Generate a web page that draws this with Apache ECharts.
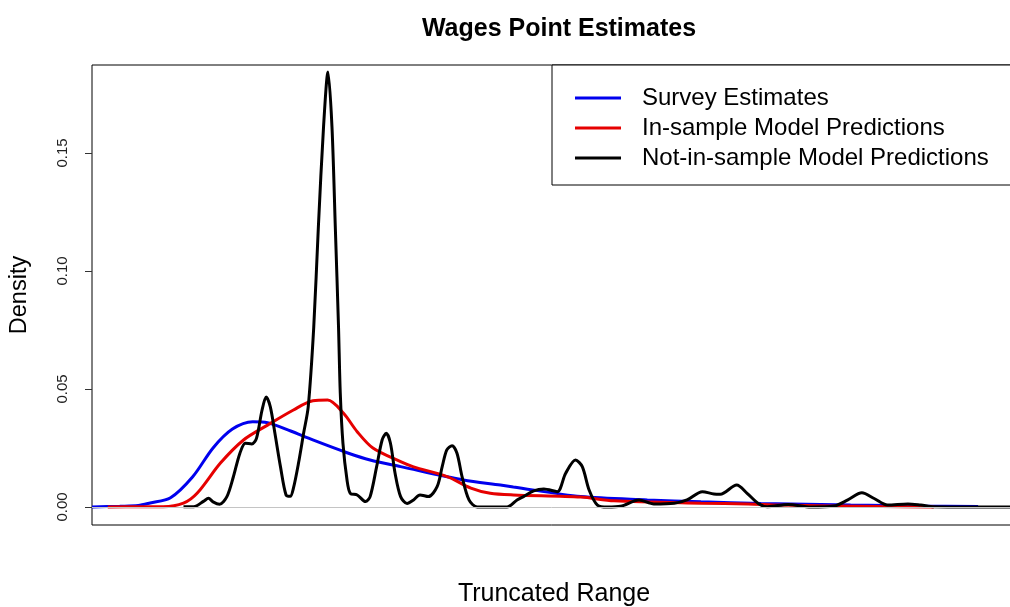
<!DOCTYPE html>
<html>
<head>
<meta charset="utf-8">
<title>Wages Point Estimates</title>
<script src="https://cdn.jsdelivr.net/npm/echarts@6/dist/echarts.min.js"></script>
<style>
  html, body { margin: 0; padding: 0; background: #fff; }
  #chart { width: 1010px; height: 607px; }
</style>
</head>
<body>
<div id="chart"></div>
<script>
// Density curves over the truncated wage range, as [x, density] pairs.
const surveyEstimates = [
  [0, 0], [3.0, 0.0003], [5.0, 0.0006], [6.3, 0.0017], [8.5, 0.0039], [10.9, 0.0128],
  [13.1, 0.025], [15.2, 0.033], [17.4, 0.0361], [19.0, 0.0357], [21.5, 0.0322],
  [23.9, 0.0284], [27.6, 0.023], [30.1, 0.0199], [33.4, 0.0171], [40.2, 0.0114],
  [44.2, 0.0093], [45.6, 0.0085], [52.9, 0.0044], [60.1, 0.003], [65.9, 0.0022],
  [72.4, 0.0015], [82.1, 0.0008], [89.7, 0.0004], [95.9, 0.0002]
];

const inSamplePredictions = [
  [1.7, 0], [5.2, 0.0001], [7.7, 0.0001], [9.9, 0.0016], [11.4, 0.0059], [13.9, 0.0186],
  [16.4, 0.0284], [19.0, 0.0347], [21.8, 0.0411], [23.9, 0.045], [25.5, 0.0453],
  [27.2, 0.0398], [28.7, 0.0319], [30.4, 0.025], [33.4, 0.0192], [34.8, 0.017],
  [38.5, 0.0128], [41.0, 0.008], [43.1, 0.0058], [45.6, 0.0051], [52.9, 0.0042],
  [56.5, 0.0026], [65.9, 0.0016], [71.0, 0.0013], [74.5, 0.0008], [85.4, 0.0002],
  [91.1, 0.0]
];

const notInSamplePredictions = [
  [9.9, 0.0001], [11.0, 0.0001], [12.1, 0.0025], [12.6, 0.0037], [13.1, 0.0022],
  [13.8, 0.0012], [14.6, 0.0044], [15.3, 0.0128], [16.0, 0.0227], [16.6, 0.027],
  [17.3, 0.0267], [17.8, 0.0291], [18.4, 0.041], [18.85, 0.0466], [19.3, 0.0424],
  [19.8, 0.0311], [20.4, 0.017], [21.0, 0.0051], [21.45, 0.0045], [21.8, 0.008],
  [22.35, 0.0186], [22.9, 0.0312], [23.4, 0.0424], [24.0, 0.0763], [24.5, 0.1188],
  [25.06, 0.1612], [25.54, 0.1843], [25.97, 0.1612], [26.33, 0.1188], [26.68, 0.0763],
  [26.87, 0.0482], [27.16, 0.027], [27.6, 0.0114], [27.95, 0.0058], [28.7, 0.0051],
  [29.6, 0.0023], [30.1, 0.0044], [30.8, 0.017], [31.4, 0.0284], [31.85, 0.0312],
  [32.3, 0.027], [32.8, 0.0143], [33.4, 0.0044], [34.1, 0.0015], [34.8, 0.003],
  [35.5, 0.0051], [36.4, 0.0044], [37.35, 0.0086], [37.9, 0.0171], [38.4, 0.0242],
  [38.97, 0.026], [39.5, 0.0228], [40.05, 0.0129], [40.8, 0.003], [41.7, 0.0],
  [44.9, 0.0], [46.0, 0.003], [46.7, 0.0044], [47.8, 0.0068], [48.9, 0.0076],
  [50.35, 0.0065], [51.25, 0.0142], [52.33, 0.0199], [53.06, 0.0171], [53.8, 0.0072],
  [54.7, 0.0008], [55.8, 0.0], [57.2, 0.0003], [59.2, 0.003], [60.8, 0.0013],
  [63.0, 0.0016], [64.4, 0.003], [66.06, 0.0065], [67.3, 0.0055], [68.0, 0.0054],
  [69.77, 0.0093], [70.9, 0.0058], [72.1, 0.0015], [73.1, 0.0001], [75.35, 0.0011],
  [77.8, 0.0], [80.3, 0.0004], [81.8, 0.003], [83.32, 0.006], [84.65, 0.0036],
  [86.1, 0.0008], [88.3, 0.0013], [89.7, 0.0008], [91.15, 0.0001], [94.8, 0.0],
  [100, 0.0]
];

const seriesNames = ['Survey Estimates', 'In-sample Model Predictions', 'Not-in-sample Model Predictions'];
const seriesColors = ['#0000ee', '#e60000', '#000000'];
const densityTicks = [0, 0.05, 0.10, 0.15];

const FONT = '"Liberation Sans", Arial, sans-serif';

const chart = echarts.init(document.getElementById('chart'), null, { renderer: 'canvas' });

function curve(name, data, color, extra) {
  return Object.assign({
    name: name,
    type: 'line',
    data: data,
    showSymbol: false,
    symbol: 'none',
    smooth: 0.3,
    lineStyle: { color: color, width: 3 },
    itemStyle: { color: color },
    emphasis: { disabled: true },
    animation: false
  }, extra || {});
}

chart.setOption({
  backgroundColor: '#ffffff',
  animation: false,
  title: {
    text: 'Wages Point Estimates',
    left: 554,
    textAlign: 'center',
    top: 12,
    textStyle: { fontFamily: FONT, fontSize: 25, fontWeight: 'bold', color: '#000' }
  },
  legend: {
    data: seriesNames,
    orient: 'vertical',
    left: 552,
    top: 65,
    padding: [18, 80, 12, 23],
    itemGap: 0,
    icon: 'rect',
    itemWidth: 46,
    itemHeight: 3,
    borderColor: '#000',
    borderWidth: 1,
    backgroundColor: '#ffffff',
    selectedMode: false,
    textStyle: { fontFamily: FONT, fontSize: 24, color: '#000', lineHeight: 30, padding: [0, 0, 0, 16] }
  },
  grid: {
    left: 92,
    top: 65,
    right: -6,
    bottom: 82,
    outerBoundsMode: 'none',
    containLabel: false,
    show: true,
    borderColor: '#000',
    borderWidth: 1,
    backgroundColor: 'transparent'
  },
  xAxis: {
    type: 'value',
    min: 0,
    max: 100,
    name: 'Truncated Range',
    nameLocation: 'middle',
    nameGap: 57,
    nameTextStyle: { fontFamily: FONT, fontSize: 25, color: '#000' },
    axisLine: { show: false },
    axisTick: { show: false },
    axisLabel: { show: false },
    splitLine: { show: false }
  },
  yAxis: {
    type: 'value',
    min: -0.00763,
    max: 0.18729,
    name: 'Density',
    nameLocation: 'middle',
    nameRotate: 90,
    nameGap: 60,
    nameTextStyle: { fontFamily: FONT, fontSize: 23.5, color: '#000' },
    axisLine: { show: false },
    axisTick: { show: true, length: 7, customValues: densityTicks, lineStyle: { color: '#333', width: 1 } },
    axisLabel: {
      customValues: densityTicks,
      rotate: 90,
      margin: 22,
      fontFamily: FONT,
      fontSize: 15,
      color: '#222',
      formatter: function (v) { return v.toFixed(2); }
    },
    splitLine: { show: false }
  },
  series: [
    curve(seriesNames[0], surveyEstimates, seriesColors[0], {
      markLine: {
        silent: true,
        symbol: 'none',
        label: { show: false },
        lineStyle: { color: '#c4c4c4', width: 1, type: 'solid' },
        data: [{ yAxis: 0 }],
        animation: false
      }
    }),
    curve(seriesNames[1], inSamplePredictions, seriesColors[1]),
    curve(seriesNames[2], notInSamplePredictions, seriesColors[2])
  ]
});
</script>
</body>
</html>
